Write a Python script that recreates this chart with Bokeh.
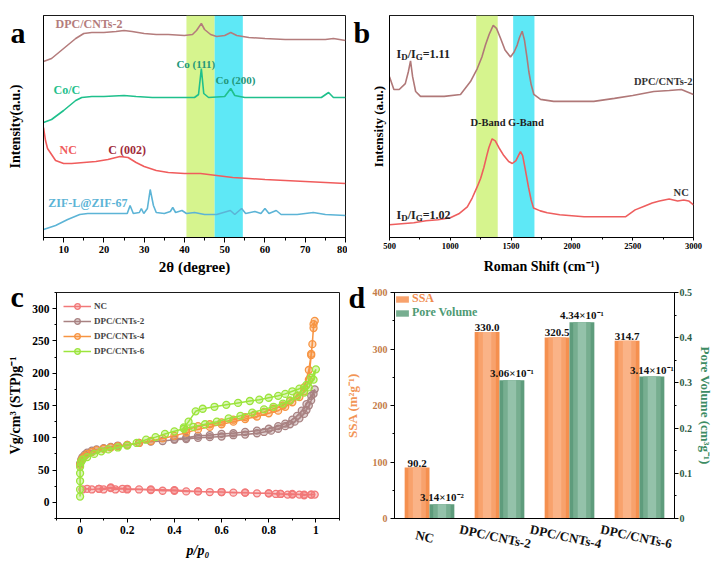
from bokeh.plotting import figure
from bokeh.models import (Range1d, LinearAxis, SingleIntervalTicker, FixedTicker,
                          Legend, LegendItem, BoxAnnotation, ColumnDataSource, FactorRange, GridBox)
from bokeh.layouts import row, column
from bokeh.core.properties import value
from bokeh.transform import dodge
from bokeh.embed import file_html
from bokeh.resources import INLINE

FONT = "Liberation Serif"

# ---------------- (a) XRD data (offset intensities, a.u.) ----------------
xrd_dpc_2theta = [5, 7, 10, 13, 15, 17, 20, 23, 25, 27, 30, 33, 36, 40, 42, 43, 44.2, 45, 46.5, 48,
                  50, 51.5, 53, 56, 60, 65, 70, 75, 77, 80]
xrd_dpc_int = [176, 179, 189, 199, 204, 205, 205, 206, 207, 206, 204, 203, 203, 202, 203, 207, 214, 208, 203, 201,
               202, 205, 202, 200, 199, 198, 198, 198, 199, 197]
xrd_coc_2theta = [5, 7, 10, 13, 14.5, 17, 20, 25, 28, 32, 36, 40, 42.5, 43.5, 44.2, 44.8, 46, 50, 51.5, 52.5,
                  55, 60, 65, 70, 74, 75.8, 77, 80]
xrd_coc_int = [115, 118, 127, 137, 140, 141, 141, 142, 141, 140, 140, 140, 140, 143, 169, 144, 140, 141, 149, 142,
               140, 140, 140, 140, 140, 145, 140, 140]
xrd_nc_2theta = [5, 5.5, 6, 7, 8, 10, 12, 15, 18, 21, 24, 26, 28, 30, 33, 36, 40, 44, 48, 52, 56, 60, 65, 70, 75, 80]
xrd_nc_int = [110, 97, 89, 83, 77, 74, 74, 75, 76, 78, 81, 80, 75, 71, 67, 65, 64, 64, 62, 60, 59, 58, 57, 56, 55, 54]
xrd_zif_2theta = [5, 8, 11, 14, 16, 20, 24, 25.8, 26.5, 27.3, 28.8, 29.3, 29.9, 30.8, 31.5, 32.3, 33, 35, 36.5, 37.1,
                  37.8, 39.4, 40.5, 42.5, 45, 48, 51.4, 52.5, 54.2, 55.2, 57.5, 59, 60, 61, 62.8, 64, 68, 72, 75, 80]
xrd_zif_int = [8, 12, 18, 23, 24, 24, 24, 24, 32, 24, 25, 29, 24, 29, 48, 32, 25, 24, 26, 30,
               25, 27, 24, 25, 23, 23, 27, 23, 29, 24, 26, 24, 29, 24, 27, 23, 23, 25, 23, 22]
xrd_band_left = [40.5, 47.5]
xrd_band_right = [47.5, 54.5]

# ---------------- (b) Raman data ----------------
raman_dpc_shift = [500, 536, 580, 630, 655, 673, 690, 715, 755, 850, 950, 1084, 1166, 1221, 1260, 1289, 1320, 1353,
                   1380, 1413, 1450, 1495, 1525, 1550, 1570, 1591, 1610, 1630, 1646, 1665, 1687, 1742, 1850, 2000,
                   2180, 2350, 2500, 2673, 2800, 2900, 3000]
raman_dpc_int = [163, 150, 150, 156, 168, 179, 163, 148, 143, 143, 143, 145, 158, 171, 183, 195, 206, 215,
                 212, 202, 190, 183, 188, 195, 203, 209, 200, 183, 168, 155, 145, 140, 138, 138,
                 138, 141, 144, 148, 149, 150, 145]
raman_nc_shift = [500, 600, 700, 800, 900, 1000, 1070, 1140, 1180, 1220, 1250, 1276, 1300, 1317, 1344, 1370, 1400,
                  1440, 1480, 1510, 1540, 1560, 1577, 1595, 1615, 1643, 1665, 1684, 1740, 1797, 1900, 2000, 2100,
                  2200, 2300, 2440, 2520, 2600, 2660, 2720, 2800, 2870, 2920, 2960, 3000]
raman_nc_int = [13, 14, 15, 17, 18, 20, 24, 31, 40, 51, 60, 71, 83, 91, 100, 98, 91,
                83, 77, 75, 78, 83, 87, 83, 70, 51, 38, 30, 27, 25, 23, 22, 21,
                21, 21, 21, 28, 32, 35, 37, 39, 37, 38, 37, 33]
raman_band_left = [1213, 1517]
raman_band_right = [1390, 1692]

# ---------------- (c) N2 isotherms ----------------
nc_p = [0.01, 0.03, 0.05, 0.08, 0.10, 0.13, 0.15, 0.18, 0.20, 0.25, 0.30, 0.35, 0.40, 0.45, 0.50, 0.55, 0.60,
        0.65, 0.70, 0.75, 0.80, 0.83, 0.85, 0.88, 0.90, 0.93, 0.95, 0.98, 0.995,
        0.98, 0.95, 0.90, 0.85, 0.80, 0.70, 0.60, 0.50, 0.40, 0.30, 0.20, 0.13, 0.08]
nc_v = [20, 21, 20, 21, 20, 22, 20, 21, 20, 20, 19, 18, 18, 17, 17, 16, 16,
        15, 15, 14, 14, 13, 13, 12, 12, 12, 11, 12, 12,
        12, 12, 13, 13, 14, 15, 16, 17, 19, 20, 21, 23, 21]
d2_p = [0.0, 0.005, 0.01, 0.02, 0.03, 0.05, 0.07, 0.10, 0.13, 0.16, 0.20, 0.25, 0.30, 0.35, 0.40, 0.45, 0.50,
        0.55, 0.60, 0.65, 0.70, 0.75, 0.78, 0.81, 0.84, 0.87, 0.89, 0.91, 0.93, 0.95, 0.96, 0.97, 0.98, 0.99, 0.995,
        0.98, 0.96, 0.94, 0.92, 0.90, 0.87, 0.84, 0.80, 0.75, 0.70, 0.65, 0.60, 0.55, 0.50, 0.45, 0.40]
d2_v = [60, 66, 70, 74, 77, 80, 82, 84, 86, 88, 89, 92, 94, 95, 97, 98, 100,
        101, 102, 104, 105, 107, 109, 111, 114, 118, 121, 125, 130, 137, 143, 150, 158, 168, 175,
        165, 152, 142, 134, 128, 122, 118, 114, 111, 109, 107, 106, 104, 103, 100, 98]
d4_p = [0.0, 0.005, 0.01, 0.02, 0.03, 0.05, 0.07, 0.10, 0.13, 0.16, 0.20, 0.25, 0.30, 0.35, 0.40, 0.45, 0.50,
        0.55, 0.60, 0.65, 0.70, 0.75, 0.80, 0.84, 0.87, 0.90, 0.93, 0.95, 0.97, 0.98, 0.99, 0.995,
        0.99, 0.985, 0.98, 0.97, 0.95, 0.92, 0.89, 0.86, 0.82, 0.78, 0.74, 0.70, 0.65, 0.60, 0.55, 0.50, 0.45]
d4_v = [58, 64, 68, 72, 75, 78, 81, 83, 85, 87, 89, 92, 95, 99, 103, 108, 113,
        117, 121, 125, 129, 133, 138, 142, 148, 155, 163, 172, 190, 228, 270, 281,
        276, 245, 230, 205, 178, 165, 157, 150, 145, 140, 136, 132, 128, 124, 121, 118, 112]
d6_p = [0.0, 0.0, 0.0, 0.0, 0.0, 0.003, 0.01, 0.03, 0.06, 0.09, 0.12, 0.16, 0.20, 0.24, 0.28, 0.32, 0.36, 0.40,
        0.44, 0.48, 0.53, 0.58, 0.63, 0.68, 0.73, 0.78, 0.82, 0.86, 0.89, 0.92, 0.95, 0.97, 0.99, 1.0,
        0.98, 0.96, 0.93, 0.90, 0.87, 0.84, 0.80, 0.76, 0.72, 0.67, 0.62, 0.57, 0.52, 0.49, 0.46, 0.44]
d6_v = [9, 20, 33, 45, 55, 62, 66, 70, 75, 79, 82, 85, 88, 92, 97, 101, 106, 110,
        114, 117, 121, 125, 130, 134, 139, 144, 148, 153, 158, 164, 170, 178, 190, 206,
        193, 182, 176, 172, 168, 165, 162, 159, 157, 154, 151, 148, 145, 141, 125, 116]
iso_names = ["NC", "DPC/CNTs-2", "DPC/CNTs-4", "DPC/CNTs-6"]

# ---------------- (d) SSA / pore volume ----------------
samples = ["NC", "DPC/CNTs-2", "DPC/CNTs-4", "DPC/CNTs-6"]
ssa = [90.2, 330.0, 320.5, 314.7]
pore_volume = [0.0314, 0.306, 0.434, 0.314]
ssa_labels = ["90.2", "330.0", "320.5", "314.7"]
pv_labels = ["3.14×10⁻²", "3.06×10⁻¹", "4.34×10⁻¹", "3.14×10⁻¹"]

panel_letters = ["a", "b", "c", "d"]

LIME = "#D6F48E"
CYAN = "#5EE8F6"
TOTAL_W, TOTAL_H = 717, 560


def base_style(p):
    p.outline_line_color = "#1a1a1a"
    p.outline_line_width = 1
    p.xgrid.visible = False
    p.ygrid.visible = False
    p.border_fill_color = "white"
    p.background_fill_color = "white"


def clear_style(p):
    p.outline_line_color = None
    p.border_fill_color = None
    p.background_fill_color = None
    p.grid.visible = False


def style_axis(ax, title_size, label_size, tick_out=5, minor_out=3, label_standoff=3,
               title_standoff=4, color="black", title_color="black"):
    ax.axis_line_color = "black"
    ax.axis_line_width = 1
    ax.major_tick_line_color = "black"
    ax.minor_tick_line_color = "black"
    ax.major_tick_in = 0
    ax.major_tick_out = tick_out
    ax.minor_tick_in = 0
    ax.minor_tick_out = minor_out
    ax.major_label_text_font = FONT
    ax.major_label_text_font_style = "bold"
    ax.major_label_text_font_size = label_size
    ax.major_label_text_color = color
    ax.major_label_standoff = label_standoff
    ax.axis_label_text_font = FONT
    ax.axis_label_text_font_style = "bold"
    ax.axis_label_text_font_size = title_size
    ax.axis_label_standoff = title_standoff
    ax.axis_label_text_color = title_color


def note(p, x, y, t, color, size="12px", align="left", baseline="middle", xo=0, yo=0):
    p.text(x=[x], y=[y], text=[t], text_color=color, text_font=value(FONT), text_font_style="bold",
           text_font_size=size, text_align=align, text_baseline=baseline, x_offset=xo, y_offset=yo)


# ======================= panel a =======================
pa = figure(width=347, height=277, x_range=Range1d(5, 80), y_range=Range1d(0, 222),
            output_backend="svg", toolbar_location=None,
            min_border_left=43, min_border_right=2, min_border_top=15, min_border_bottom=40)
base_style(pa)
for l, r, c in zip(xrd_band_left, xrd_band_right, [LIME, CYAN]):
    pa.add_layout(BoxAnnotation(left=l, right=r, fill_color=c, fill_alpha=1, line_alpha=0, level="underlay"))
pa.line(xrd_dpc_2theta, xrd_dpc_int, line_color="#B47C7C", line_width=1.6)
pa.line(xrd_coc_2theta, xrd_coc_int, line_color="#1FC08C", line_width=1.6)
pa.line(xrd_nc_2theta, xrd_nc_int, line_color="#F05C5C", line_width=1.6)
pa.line(xrd_zif_2theta, xrd_zif_int, line_color="#5CB4D6", line_width=1.6)
note(pa, 8.0, 214, "DPC/CNTs-2", "#B47C7C")
note(pa, 7.5, 148, "Co/C", "#1FC08C")
note(pa, 38.0, 174, "Co (111)", "#23977A", size="11px")
note(pa, 47.7, 158, "Co (200)", "#23977A", size="11px")
note(pa, 9.0, 88, "NC", "#F05C5C")
note(pa, 21.1, 88, "C (002)", "#A02A3A")
note(pa, 6.2, 35, "ZIF-L@ZIF-67", "#5CB4D6")
pa.xaxis.ticker = SingleIntervalTicker(interval=10, num_minor_ticks=2)
style_axis(pa.xaxis[0], "15px", "10.5px", tick_out=5, minor_out=3, label_standoff=3, title_standoff=3)
pa.xaxis.axis_label = "2θ (degree)"
pa.yaxis.ticker = FixedTicker(ticks=[], minor_ticks=[])
style_axis(pa.yaxis[0], "14px", "10px", tick_out=0, minor_out=0, label_standoff=0, title_standoff=21)
pa.yaxis.axis_label = "Intensity(a.u.)"

# ======================= panel b =======================
pb = figure(width=370, height=277, x_range=Range1d(500, 3000), y_range=Range1d(0, 225),
            output_backend="svg", toolbar_location=None,
            min_border_left=42, min_border_right=24, min_border_top=13, min_border_bottom=39)
base_style(pb)
for l, r, c in zip(raman_band_left, raman_band_right, [LIME, CYAN]):
    pb.add_layout(BoxAnnotation(left=l, right=r, fill_color=c, fill_alpha=1, line_alpha=0, level="underlay"))
pb.line(raman_dpc_shift, raman_dpc_int, line_color="#B07878", line_width=1.6)
pb.line(raman_nc_shift, raman_nc_int, line_color="#EE5E5E", line_width=1.6)
for yy, ratio in [(186, "=1.11"), (23, "=1.02")]:
    note(pb, 558, yy, "I", "#222", size="12px", baseline="alphabetic")
    note(pb, 558, yy, "D", "#222", size="9px", baseline="alphabetic", xo=4.7, yo=3)
    note(pb, 558, yy, "/I", "#222", size="12px", baseline="alphabetic", xo=11.2)
    note(pb, 558, yy, "G", "#222", size="9px", baseline="alphabetic", xo=19.2, yo=3)
    note(pb, 558, yy, ratio, "#222", size="12px", baseline="alphabetic", xo=26.2)
note(pb, 2992, 158, "DPC/CNTs-2", "#333", size="10.5px", align="right")
note(pb, 1166, 117, "D-Band G-Band", "#222", size="10.5px")
note(pb, 2836, 46, "NC", "#333", size="10.5px")
pb.xaxis.ticker = SingleIntervalTicker(interval=500, num_minor_ticks=2)
style_axis(pb.xaxis[0], "14px", "8.5px", tick_out=3, minor_out=2, label_standoff=2, title_standoff=7)
pb.xaxis.axis_label = "Roman Shift (cm⁻¹)"
pb.yaxis.ticker = FixedTicker(ticks=[], minor_ticks=[])
style_axis(pb.yaxis[0], "13px", "10px", tick_out=0, minor_out=0, label_standoff=0, title_standoff=4)
pb.yaxis.axis_label = "Intensity (a.u.)"

# ======================= panel c =======================
pc = figure(width=341, height=283, x_range=Range1d(-0.1, 1.1), y_range=Range1d(-25, 325),
            output_backend="svg", toolbar_location=None,
            min_border_left=56, min_border_right=2, min_border_top=11, min_border_bottom=41)
base_style(pc)
iso_data = [(nc_p, nc_v, "#F27878"), (d2_p, d2_v, "#A88282"), (d4_p, d4_v, "#F79442"), (d6_p, d6_v, "#9CE53C")]
items = []
for (px, vy, col), name in zip(iso_data, iso_names):
    ln = pc.line(px, vy, line_color=col, line_width=1.5)
    sc = pc.scatter(px, vy, marker="circle", size=7, line_color=col, line_width=1.3,
                    fill_color=col, fill_alpha=0.35)
    items.append(LegendItem(label=name, renderers=[ln, sc]))
leg_c = Legend(items=items, location="top_left", margin=3, padding=4, spacing=1,
               glyph_width=28, glyph_height=14, label_height=14, label_standoff=3,
               label_text_font=FONT, label_text_font_style="bold", label_text_font_size="9px",
               border_line_alpha=0, background_fill_alpha=0)
pc.add_layout(leg_c)
pc.xaxis.ticker = SingleIntervalTicker(interval=0.2, num_minor_ticks=2)
pc.yaxis.ticker = SingleIntervalTicker(interval=50, num_minor_ticks=2)
style_axis(pc.xaxis[0], "14px", "11.5px", tick_out=4, minor_out=2, label_standoff=3, title_standoff=6)
style_axis(pc.yaxis[0], "14px", "11.5px", tick_out=4, minor_out=2, label_standoff=3, title_standoff=6)
pc.xaxis.axis_label = "p/p₀"
pc.xaxis.axis_label_text_font_style = "bold italic"
pc.yaxis.axis_label = "Vg/cm³ (STP)g⁻¹"

# ======================= panel d =======================
pd_ = figure(width=376, height=283, x_range=FactorRange(factors=samples, range_padding=0),
             y_range=Range1d(0, 400), output_backend="svg", toolbar_location=None,
             min_border_left=51, min_border_right=43, min_border_top=15, min_border_bottom=41)
base_style(pd_)
pd_.extra_y_ranges = {"pv": Range1d(0, 0.5)}
src = ColumnDataSource(dict(cat=samples, ssa=ssa, pv=pore_volume, ssa_lbl=ssa_labels, pv_lbl=pv_labels))
# bars drawn in three layers (full width -> narrow) to imitate the shaded look
ssa_layers = [(0.355, "#F5904F"), (0.25, "#F8A26C"), (0.12, "#FAB387")]
pv_layers = [(0.355, "#5E9C7C"), (0.25, "#77AE90"), (0.12, "#94C2AA")]
bar_ssa = []
bar_pv = []
for w, colr in ssa_layers:
    bar_ssa.append(pd_.vbar(x=dodge("cat", -0.1775, range=pd_.x_range), top="ssa", width=w, source=src,
                            fill_color=colr, line_color=None))
for w, colr in pv_layers:
    bar_pv.append(pd_.vbar(x=dodge("cat", 0.1775, range=pd_.x_range), top="pv", width=w, source=src,
                           y_range_name="pv", fill_color=colr, line_color=None))
pd_.text(x=dodge("cat", -0.1775, range=pd_.x_range), y="ssa", text="ssa_lbl", source=src,
         text_align="center", text_baseline="bottom", text_font=value(FONT), text_font_style="bold",
         text_font_size="11px", text_color="#111", y_offset=-1)
pd_.text(x=dodge("cat", 0.1775, range=pd_.x_range), y="pv", text="pv_lbl", source=src, y_range_name="pv",
         text_align="center", text_baseline="bottom", text_font=value(FONT), text_font_style="bold",
         text_font_size="11px", text_color="#111", y_offset=-1)
for loc, item_r, lbl, colr in [(212, bar_ssa[1], "SSA", "#F08A4C"), (198, bar_pv[1], "Pore Volume", "#4E9A74")]:
    lg = Legend(items=[LegendItem(label=lbl, renderers=[item_r])], location=(0, loc), margin=0, padding=0,
                glyph_width=16, glyph_height=8, label_height=8, label_standoff=2,
                label_text_font=FONT, label_text_font_style="bold", label_text_font_size="12px",
                label_text_color=colr, border_line_alpha=0, background_fill_alpha=0)
    pd_.add_layout(lg)
pd_.yaxis.ticker = SingleIntervalTicker(interval=100, num_minor_ticks=2)
style_axis(pd_.yaxis[0], "13px", "10px", tick_out=4, minor_out=2, label_standoff=3, title_standoff=10,
           color="#C47C48", title_color="#F29556")
pd_.yaxis.axis_label = "SSA (m²g⁻¹)"
rax = LinearAxis(y_range_name="pv", ticker=SingleIntervalTicker(interval=0.1, num_minor_ticks=2))
style_axis(rax, "13px", "10px", tick_out=4, minor_out=2, label_standoff=1, title_standoff=3,
           color="#2D5C47", title_color="#3D8C63")
rax.axis_label = "Pore Volume (cm³g⁻¹)"
pd_.add_layout(rax, "right")
style_axis(pd_.xaxis[0], "12px", "12px", tick_out=0, minor_out=0, label_standoff=2, title_standoff=0)
pd_.xaxis.major_label_text_color = None
pd_.xaxis.major_tick_line_color = None

# ---- transparent overlay: rotated sample names under panel d (shares its category scale) ----
ov_cat = figure(width=TOTAL_W, height=TOTAL_H, x_range=pd_.x_range, y_range=Range1d(0, 41),
                output_backend="svg", toolbar_location=None, x_axis_type=None, y_axis_type=None,
                min_border_left=392, min_border_right=TOTAL_W - 674, min_border_top=519, min_border_bottom=0)
clear_style(ov_cat)
ov_cat.text(x=samples, y=[24] * len(samples), text=samples, angle=-0.21, text_align="center",
            text_baseline="middle", x_offset=-3, text_font=value(FONT), text_font_style="bold",
            text_font_size="13px", text_color="#111")

# ---- transparent overlay: panel letters (page pixel coordinates, y up) ----
ov_let = figure(width=TOTAL_W, height=TOTAL_H, x_range=Range1d(0, TOTAL_W), y_range=Range1d(0, TOTAL_H),
                output_backend="svg", toolbar_location=None, x_axis_type=None, y_axis_type=None,
                min_border_left=0, min_border_right=0, min_border_top=0, min_border_bottom=0)
clear_style(ov_let)
ov_let.text(x=[10, 353, 10, 348], y=[528, 528, 264, 263], text=panel_letters, text_align="left",
            text_baseline="alphabetic", text_font=value(FONT), text_font_style="bold",
            text_font_size="30px", text_color="black")

main = column(row(pa, pb), row(pc, pd_))
layout = GridBox(children=[(main, 0, 0), (column(ov_cat), 0, 0), (column(ov_let), 0, 0)])
open("out.html", "w").write(file_html(layout, INLINE))
